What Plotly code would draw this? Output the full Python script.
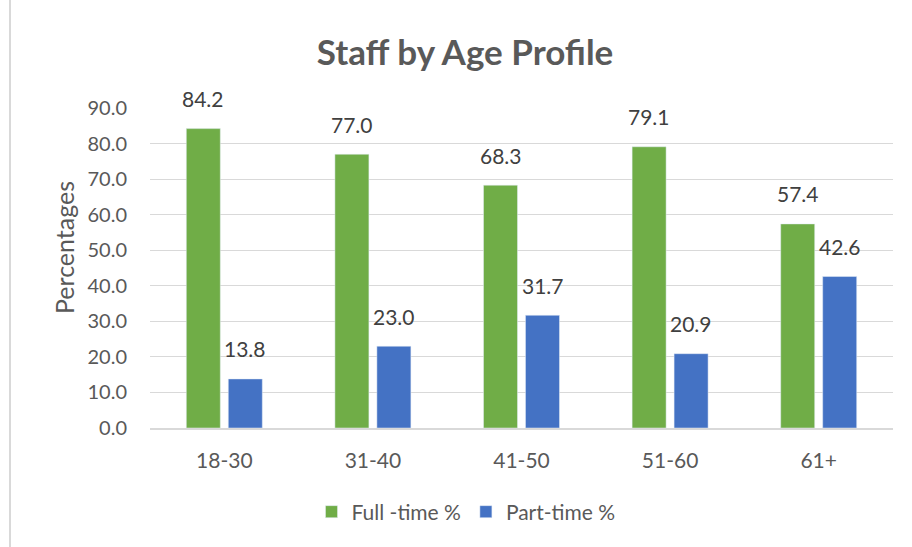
import plotly.graph_objects as go

categories = ["18-30", "31-40", "41-50", "51-60", "61+"]
full_time = [84.2, 77.0, 68.3, 79.1, 57.4]
part_time = [13.8, 23.0, 31.7, 20.9, 42.6]
series_names = ["Full -time %", "Part-time %"]
y_ticks = [0, 10, 20, 30, 40, 50, 60, 70, 80, 90]

GREEN = "#70AD47"
BLUE = "#4472C4"
TXT = "#595959"
FONT = "Lato"

fig = go.Figure()
fig.add_trace(go.Bar(x=categories, y=full_time, name=series_names[0], marker_color=GREEN))
fig.add_trace(go.Bar(x=categories, y=part_time, name=series_names[1], marker_color=BLUE))

annotations = []
for vals, shift in ((full_time, -21), (part_time, 21)):
    for c, v in zip(categories, vals):
        annotations.append(dict(x=c, y=v, text=f"{v:.1f}", showarrow=False,
                                xshift=shift, yshift=30, yanchor="middle",
                                font=dict(family=FONT, size=21, color="#404040")))
annotations.append(dict(xref="paper", yref="paper", x=(64 - 150) / 743, y=0.5625,
                        text="Percentages", textangle=-90, showarrow=False,
                        xanchor="center", yanchor="middle",
                        font=dict(family=FONT, size=25, color=TXT)))

fig.update_layout(
    width=912, height=547,
    margin=dict(l=150, r=19, t=108, b=119),
    paper_bgcolor="white", plot_bgcolor="white",
    barmode="group", bargap=0.435, bargroupgap=0.19,
    title=dict(text="<b>Staff by Age Profile</b>", x=465 / 912, xanchor="center",
               y=1 - 53 / 547, yanchor="middle",
               font=dict(family=FONT, size=35, color=TXT)),
    font=dict(family=FONT, size=20, color=TXT),
    showlegend=True,
    legend=dict(orientation="h", x=(466 - 150) / 743, xanchor="center",
                y=(428 - 512) / 320, yanchor="middle",
                font=dict(family=FONT, size=21, color=TXT),
                itemwidth=30, traceorder="normal"),
    annotations=annotations,
    shapes=[dict(type="line", xref="paper", yref="paper",
                 x0=-140 / 743, x1=-140 / 743, y0=(428 - 0) / 320, y1=(428 - 547) / 320,
                 line=dict(color="#D9D9D9", width=2))],
)
fig.update_yaxes(range=[0, 90], tickvals=y_ticks, tickformat=".1f",
                 showgrid=True, gridcolor="#D9D9D9", gridwidth=1,
                 zeroline=False, showline=False, ticks="",
                 ticklabelstandoff=22,
                 tickfont=dict(family=FONT, size=20, color=TXT))
fig.update_xaxes(showline=True, linecolor="#D9D9D9", linewidth=2, ticks="",
                 ticklabelstandoff=13,
                 tickfont=dict(family=FONT, size=21, color=TXT))

fig.write_html("out.html", config={"displayModeBar": False},
               post_script="document.body.style.margin='0';")
